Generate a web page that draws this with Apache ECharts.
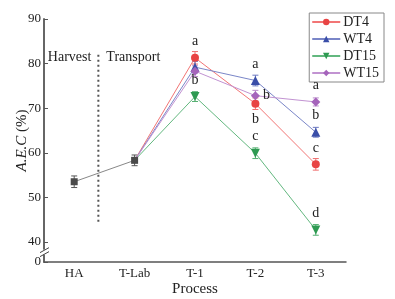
<!DOCTYPE html>
<html>
<head>
<meta charset="utf-8">
<script src="https://cdn.jsdelivr.net/npm/echarts@6/dist/echarts.min.js"></script>
<style>
  html, body { margin: 0; padding: 0; background: #fff; }
  #main { width: 395px; height: 299px; }
</style>
</head>
<body>
<div id="main"></div>
<script>
// categories on x axis
const categories = ["HA", "T-Lab", "T-1", "T-2", "T-3"];
// y tick labels, 35.5 stands in for the broken-off "0"
const yTicks = [35.5, 40, 50, 60, 70, 80, 90];

// shared points (harvest + lab)
const baseValues = [53.5, 58.3];
const baseErr = [1.3, 1.2];

// T-1, T-2, T-3
const dt4Values = [81.3, 71.0, 57.4];
const dt4Err = [1.4, 1.3, 1.3];
const wt4Values = [79.2, 76.2, 64.6];
const wt4Err = [1.3, 1.2, 1.1];
const dt15Values = [72.6, 59.9, 42.7];
const dt15Err = [1.1, 1.2, 1.2];
const wt15Values = [78.3, 72.8, 71.4];
const wt15Err = [1.2, 1.2, 0.9];

// significance letters
const dt4Letters = ["a", "b", "c"];
const wt4Letters = ["", "a", "b"];
const dt15Letters = ["b", "c", "d"];
const wt15Letters = ["", "b", "a"];
const dt4LetterPos = ["top", "bottom", "top"];
const wt4LetterPos = ["top", "top", "top"];
const dt15LetterPos = ["top", "top", "top"];
const wt15LetterPos = ["top", "right", "top"];

const FONT = "'Liberation Serif', 'Times New Roman', serif";

function lineData(vals, letters, pos) {
  let d = [{ value: baseValues[1], symbol: "none" }];
  vals.forEach((v, i) => {
    d.push({
      value: v,
      label: {
        show: !!letters[i],
        formatter: letters[i],
        position: pos[i],
        distance: pos[i] == "right" ? 3 : 5
      }
    });
  });
  return ["-"].concat(d);
}

function errData(vals, errs, offset) {
  return vals.map((v, i) => [i + offset, v, errs[i]]);
}

function errSeries(name, data, color) {
  return {
    name: name + "_err",
    type: "custom",
    z: 3,
    data: data,
    renderItem: (params, api) => {
      let x = api.value(0);
      let v = api.value(1);
      let e = api.value(2);
      let top = api.coord([x, v + e]);
      let bot = api.coord([x, v - e]);
      let hw = 3;
      let style = { stroke: color, lineWidth: 1 };
      return {
        type: "group",
        children: [
          { type: "line", shape: { x1: top[0], y1: top[1], x2: bot[0], y2: bot[1] }, style: style },
          { type: "line", shape: { x1: top[0] - hw, y1: top[1], x2: top[0] + hw, y2: top[1] }, style: style },
          { type: "line", shape: { x1: bot[0] - hw, y1: bot[1], x2: bot[0] + hw, y2: bot[1] }, style: style }
        ]
      };
    }
  };
}

function lineSeries(name, data, color, lineColor, symbol, size) {
  return {
    name: name,
    type: "line",
    z: 4,
    data: data,
    symbol: symbol,
    symbolSize: size,
    itemStyle: { color: color },
    lineStyle: { color: lineColor, width: 1 },
    label: { color: "#222", fontFamily: FONT, fontSize: 14 }
  };
}

let chart = echarts.init(document.getElementById("main"));

let option = {
  animation: false,
  backgroundColor: "#fff",
  grid: { left: 44, right: 49, top: 19, bottom: 37, outerBoundsMode: "none", containLabel: false },
  legend: {
    right: 11,
    top: 13,
    orient: "vertical",
    itemWidth: 28,
    itemHeight: 8,
    itemGap: 3,
    padding: [2, 5, 2, 2],
    borderColor: "#888",
    borderWidth: 1,
    borderRadius: 0,
    data: ["DT4", "WT4", "DT15", "WT15"],
    textStyle: { fontFamily: FONT, fontSize: 14, color: "#222", padding: [0, 0, 0, -2] }
  },
  xAxis: {
    type: "category",
    data: categories,
    name: "Process",
    nameLocation: "middle",
    nameGap: 20,
    nameMoveOverlap: false,
    nameTextStyle: { fontFamily: FONT, fontSize: 15, color: "#222" },
    axisLine: { lineStyle: { color: "#555", width: 1.5 } },
    axisTick: { inside: true, length: 4, alignWithLabel: true, lineStyle: { color: "#555" } },
    axisLabel: { fontFamily: FONT, fontSize: 13, color: "#222", margin: 5 },
    splitLine: { show: false }
  },
  yAxis: {
    type: "value",
    min: 35.5,
    max: 90,
    name: "{i|A.E.C} (%)",
    nameLocation: "middle",
    nameGap: 14,
    nameMoveOverlap: false,
    nameTextStyle: {
      fontFamily: FONT, fontSize: 15, color: "#222",
      rich: { i: { fontFamily: FONT, fontSize: 15, fontStyle: "italic", color: "#222" } }
    },
    axisLine: { show: true, lineStyle: { color: "#666", width: 2 } },
    axisTick: { show: true, inside: true, length: 4, customValues: yTicks, lineStyle: { color: "#555" } },
    axisLabel: {
      fontFamily: FONT, fontSize: 13, color: "#222", margin: 3,
      customValues: yTicks,
      formatter: v => (v < 40 ? "0" : String(v))
    },
    splitLine: { show: false }
  },
  series: [
    lineSeries("base", baseValues, "#4a4a4a", "#888", "rect", 7),
    lineSeries("DT4", lineData(dt4Values, dt4Letters, dt4LetterPos), "#e84444", "#f27575", "circle", 8),
    lineSeries("WT4", lineData(wt4Values, wt4Letters, wt4LetterPos), "#3a4ea8", "#7a86c8", "triangle", 9),
    lineSeries("DT15", lineData(dt15Values, dt15Letters, dt15LetterPos), "#2e9a52", "#63b87f", "path://M0,0 L10,0 L5,9 Z", 9),
    lineSeries("WT15", lineData(wt15Values, wt15Letters, wt15LetterPos), "#a564bb", "#c293d2", "diamond", 9),
    errSeries("base", errData(baseValues, baseErr, 0), "#555"),
    errSeries("DT4", errData(dt4Values, dt4Err, 2), "#f07070"),
    errSeries("WT4", errData(wt4Values, wt4Err, 2), "#6b78c0"),
    errSeries("DT15", errData(dt15Values, dt15Err, 2), "#55b072"),
    errSeries("WT15", errData(wt15Values, wt15Err, 2), "#b98ac9")
  ]
};
chart.setOption(option);

// dotted divider, harvest/transport text and axis break mark
let pHA = chart.convertToPixel({ gridIndex: 0 }, [0, 82]);
let pLab = chart.convertToPixel({ gridIndex: 0 }, [1, 44.5]);
let xDiv = pHA[0] + (pLab[0] - pHA[0]) * 0.4;
let yTxt = chart.convertToPixel({ gridIndex: 0 }, [0, 81.3])[1];
let brk = chart.convertToPixel({ gridIndex: 0 }, [0, 37.6])[1];
let xAx = pHA[0] - (pLab[0] - pHA[0]) / 2;
chart.setOption({
  graphic: [
    {
      type: "line",
      shape: { x1: xDiv, y1: pHA[1], x2: xDiv, y2: pLab[1] },
      style: { stroke: "#555", lineWidth: 2, lineDash: [2, 3] }
    },
    {
      type: "text", x: xDiv - 7, y: yTxt,
      style: { text: "Harvest", textAlign: "right", textVerticalAlign: "middle", font: "14px " + FONT, fill: "#222" }
    },
    {
      type: "text", x: xDiv + 8, y: yTxt,
      style: { text: "Transport", textAlign: "left", textVerticalAlign: "middle", font: "14px " + FONT, fill: "#222" }
    },
    {
      type: "rect", shape: { x: xAx - 2, y: brk - 3, width: 4, height: 5 },
      style: { fill: "#fff" }, z: 10
    },
    {
      type: "line", shape: { x1: xAx - 4, y1: brk, x2: xAx + 5, y2: brk - 5 },
      style: { stroke: "#444", lineWidth: 1 }, z: 11
    },
    {
      type: "line", shape: { x1: xAx - 4, y1: brk + 4, x2: xAx + 5, y2: brk - 1 },
      style: { stroke: "#444", lineWidth: 1 }, z: 11
    }
  ]
});
</script>
</body>
</html>
